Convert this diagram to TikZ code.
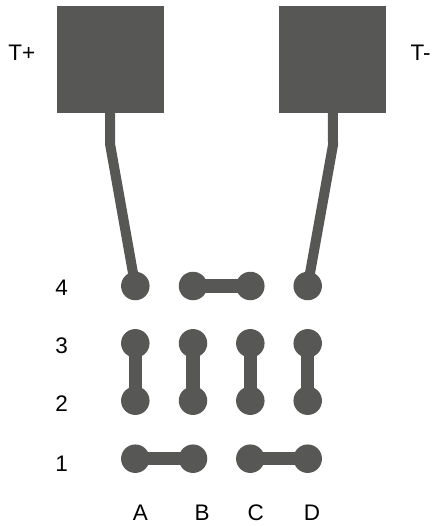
\documentclass[tikz,border=0pt]{standalone}
\usepackage{fontspec}
\setmainfont{Liberation Sans}
\definecolor{pcb}{HTML}{575855}
\tikzset{
  padnode/.style={circle,fill=pcb,minimum size=28.5pt,inner sep=0pt,outer sep=0pt},
  squarepad/.style={rectangle,fill=pcb,minimum size=107pt,inner sep=0pt,outer sep=0pt},
  jumper/.style={draw=pcb,line width=13.5pt},
  trace/.style={draw=pcb,line width=10pt,line join=miter},
  lbl/.style={font=\fontsize{22.5pt}{25pt}\selectfont,text=black,inner sep=0pt,anchor=base}
}
\begin{document}
\begin{tikzpicture}[x=1pt,y=-1pt]
\useasboundingbox (0,0) rectangle (434,526);
\node[squarepad] (tp) at (110.2,59.8) {};
\node[squarepad] (tm) at (332.8,59.8) {};
\foreach \n/\x in {A/135.3,B/193,C/250.3,D/307.7}{
  \foreach \r/\y in {4/286,3/343.3,2/400.7,1/458.7}{
    \node[padnode] (\n\r) at (\x,\y) {};
  }
}
\coordinate (tpb) at (110.2,145);
\coordinate (tmb) at (333,145);
\draw[trace] (tp.center) -- (tpb) -- (A4.center);
\draw[trace] (tm.center) -- (tmb) -- (D4.center);
\draw[jumper] (B4.center) -- (C4.center);
\draw[jumper] (A3.center) -- (A2.center);
\draw[jumper] (B3.center) -- (B2.center);
\draw[jumper] (C3.center) -- (C2.center);
\draw[jumper] (D3.center) -- (D2.center);
\draw[jumper] (A1.center) -- (B1.center);
\draw[jumper] (C1.center) -- (D1.center);
\node[lbl] (lp) at (21.7,60.5) {T+};
\node[lbl] (lm) at (420.5,60.5) {T-};
\node[lbl] (r4) at (61.7,295) {4};
\node[lbl] (r3) at (61.7,353) {3};
\node[lbl] (r2) at (61.7,411) {2};
\node[lbl] (r1) at (61.7,471) {1};
\node[lbl] (ca) at (140.5,520) {A};
\node[lbl] (cb) at (202,520) {B};
\node[lbl] (cc) at (255.7,520) {C};
\node[lbl] (cd) at (312,520) {D};
\end{tikzpicture}
\end{document}
